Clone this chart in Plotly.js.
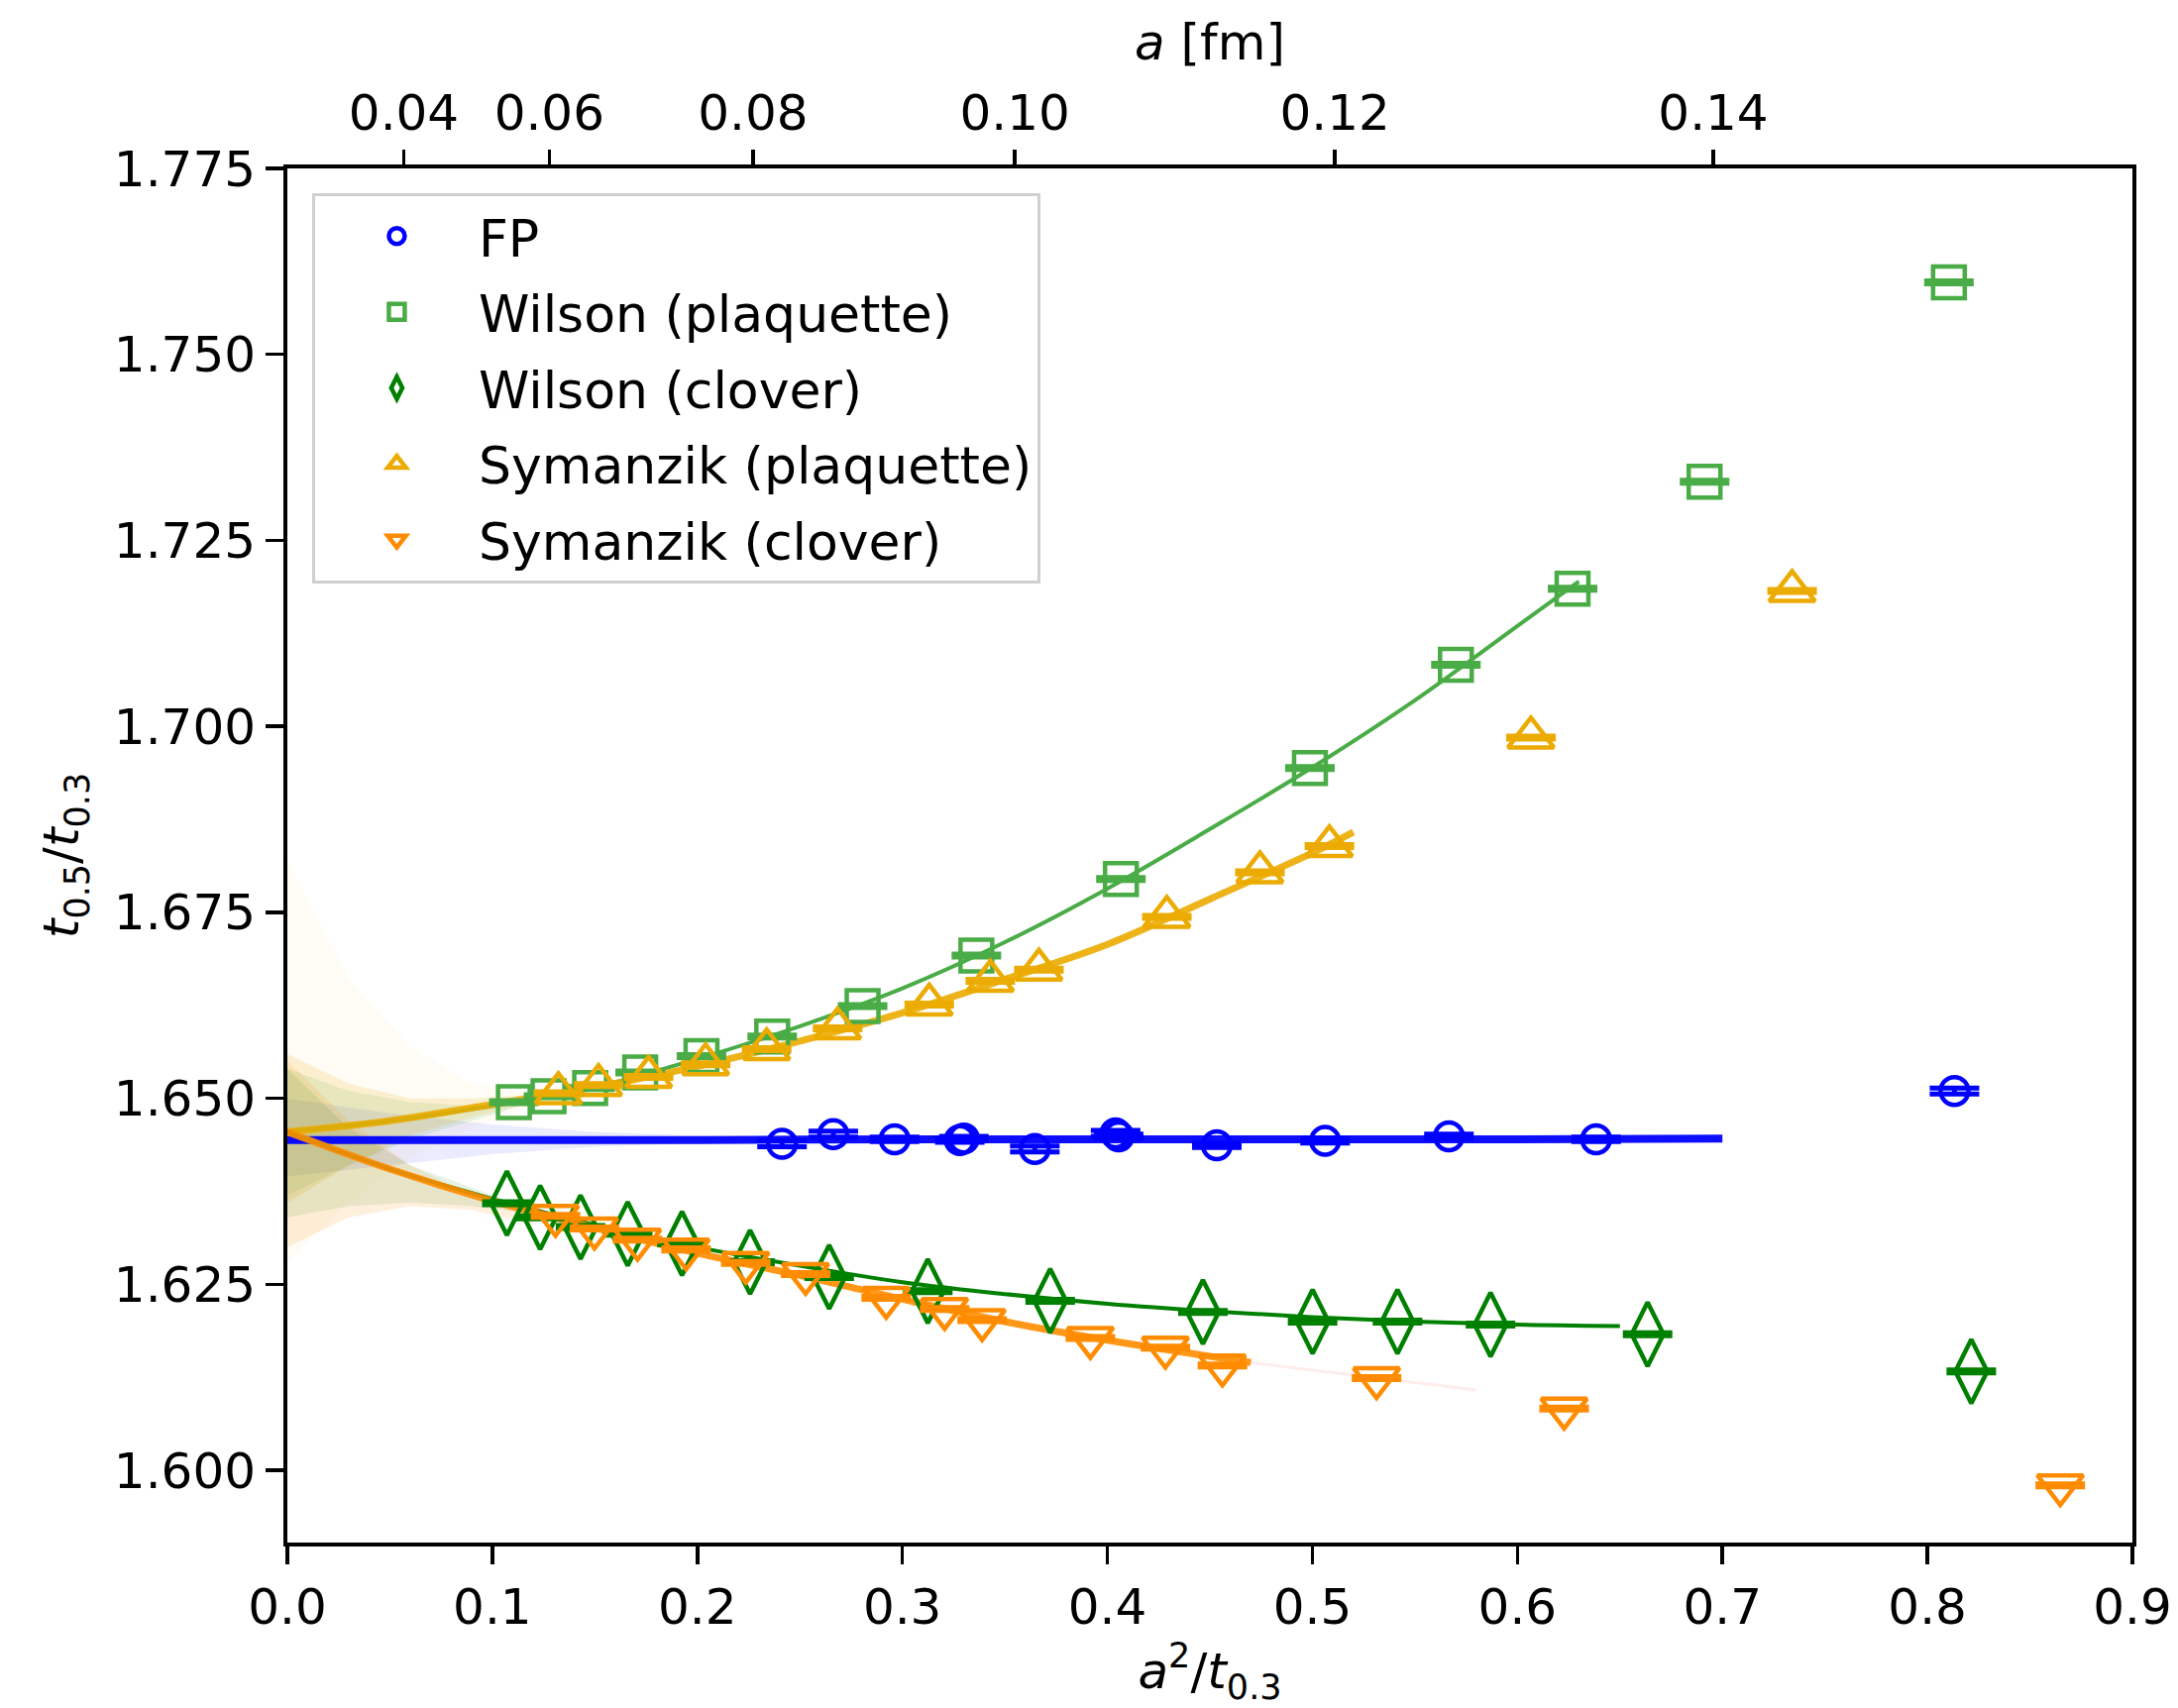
<!DOCTYPE html>
<html>
<head>
<meta charset="utf-8">
<script src="https://cdn.plot.ly/plotly-3.0.1.min.js"></script>
<style>html,body{margin:0;padding:0;background:#fff;}#chart{width:2198px;height:1724px;}</style>
</head>
<body>
<div id="chart"></div>
<script>
// ---------------- data ----------------
// FP
const fpX = [0.2413, 0.2663, 0.2962, 0.3280, 0.3300, 0.3646, 0.4040, 0.4055, 0.4534, 0.5062, 0.5666, 0.6384, 0.8132];
const fpY = [1.6439, 1.6452, 1.6445, 1.6444, 1.6446, 1.6432, 1.6453, 1.6449, 1.6437, 1.6443, 1.6449, 1.6445, 1.6510];
const fpErr = [0.0004, 0.0004, 0.0003, 0.0003, 0.0003, 0.0004, 0.0004, 0.0003, 0.0003, 0.0003, 0.0003, 0.0003, 0.0004];
// Wilson (plaquette)
const wpX = [0.1105, 0.1274, 0.1477, 0.1721, 0.2020, 0.2365, 0.2806, 0.3361, 0.4066, 0.4988, 0.5700, 0.6269, 0.6913, 0.8105];
const wpY = [1.6495, 1.6503, 1.6514, 1.6535, 1.6557, 1.6583, 1.6624, 1.6692, 1.6795, 1.6944, 1.7083, 1.7185, 1.7329, 1.7597];
const wpErr = [0.0002, 0.0002, 0.0002, 0.0002, 0.0002, 0.0002, 0.0002, 0.0002, 0.0002, 0.0002, 0.0002, 0.0002, 0.0002, 0.0002];
// Wilson (clover)
const wcX = [0.1071, 0.1233, 0.1430, 0.1660, 0.1925, 0.2257, 0.2643, 0.3124, 0.3721, 0.4466, 0.5001, 0.5415, 0.5869, 0.6635, 0.8214];
const wcY = [1.6359, 1.6340, 1.6327, 1.6318, 1.6305, 1.6280, 1.6260, 1.6241, 1.6228, 1.6213, 1.6200, 1.6200, 1.6196, 1.6183, 1.6133];
const wcErr = [0.0002, 0.0002, 0.0002, 0.0002, 0.0002, 0.0002, 0.0002, 0.0002, 0.0002, 0.0002, 0.0002, 0.0002, 0.0002, 0.0002, 0.0002];
// Symanzik (plaquette)
const spX = [0.1322, 0.1518, 0.1762, 0.2040, 0.2338, 0.2684, 0.3131, 0.3429, 0.3666, 0.4290, 0.4744, 0.5083, 0.6066, 0.7340];
const spY = [1.6507, 1.6518, 1.6529, 1.6546, 1.6566, 1.6594, 1.6626, 1.6658, 1.6673, 1.6744, 1.6804, 1.6839, 1.6985, 1.7182];
const spErr = [0.0002, 0.0002, 0.0002, 0.0002, 0.0002, 0.0002, 0.0002, 0.0002, 0.0002, 0.0002, 0.0002, 0.0002, 0.0002, 0.0002];
// Symanzik (clover)
const scX = [0.1308, 0.1498, 0.1708, 0.1945, 0.2236, 0.2528, 0.2921, 0.3206, 0.3389, 0.3917, 0.4283, 0.4561, 0.5313, 0.6228, 0.8648];
const scY = [1.6342, 1.6325, 1.6310, 1.6297, 1.6279, 1.6264, 1.6232, 1.6217, 1.6202, 1.6178, 1.6165, 1.6141, 1.6124, 1.6083, 1.5980];
const scErr = [0.0002, 0.0002, 0.0002, 0.0002, 0.0002, 0.0002, 0.0002, 0.0002, 0.0002, 0.0002, 0.0002, 0.0002, 0.0002, 0.0002, 0.0002];

// continuum-extrapolation fit curves (central)
const fpFitX = [0, 0.1, 0.2, 0.3, 0.4, 0.5, 0.6, 0.7];
const fpFitY = [1.6444, 1.6444, 1.6444, 1.6445, 1.6445, 1.6445, 1.6445, 1.6446];
const wpFitX = [0, 0.05, 0.1, 0.15, 0.2, 0.25, 0.3, 0.35, 0.4, 0.45, 0.5, 0.55, 0.6, 0.63];
const wpFitY = [1.6455, 1.6470, 1.6490, 1.6515, 1.6553, 1.6597, 1.6648, 1.6710, 1.6782, 1.6862, 1.6945, 1.7035, 1.7135, 1.7195];
const spFitX = [0, 0.05, 0.1, 0.15, 0.2, 0.25, 0.3, 0.35, 0.4, 0.45, 0.5, 0.52];
const spFitY = [1.6455, 1.6470, 1.6492, 1.6515, 1.6543, 1.6577, 1.6615, 1.6660, 1.6707, 1.6768, 1.6830, 1.6858];
const wcFitX = [0, 0.05, 0.1, 0.15, 0.2, 0.25, 0.3, 0.35, 0.4, 0.45, 0.5, 0.55, 0.6, 0.65];
const wcFitY = [1.6455, 1.6405, 1.6365, 1.6330, 1.6300, 1.6275, 1.6253, 1.6237, 1.6224, 1.6214, 1.6206, 1.6200, 1.6196, 1.6194];
const scFitX = [0, 0.05, 0.1, 0.15, 0.2, 0.25, 0.3, 0.35, 0.4, 0.47];
const scFitY = [1.6455, 1.6405, 1.6362, 1.6326, 1.6292, 1.6262, 1.6230, 1.6200, 1.6175, 1.6145];
const scTailX = [0.47, 0.52, 0.58];
const scTailY = [1.6145, 1.6128, 1.6108];

// spread of bootstrap fits near the continuum limit
const bandX = [0, 0.03, 0.06, 0.09, 0.12];
const wpBandHi = [1.654, 1.651, 1.6495, 1.649, 1.650];
const wpBandLo = [1.637, 1.641, 1.6445, 1.647, 1.6495];
const spBandHi = [1.656, 1.652, 1.650, 1.650, 1.6505];
const spBandLo = [1.636, 1.641, 1.645, 1.6475, 1.6495];
const spWideHi = [1.682, 1.666, 1.657, 1.652, 1.6505];
const spWideLo = [1.628, 1.636, 1.642, 1.646, 1.649];
const wcBandHi = [1.654, 1.646, 1.641, 1.638, 1.635];
const wcBandLo = [1.634, 1.6355, 1.636, 1.6355, 1.6345];
const scBandHi = [1.655, 1.647, 1.641, 1.637, 1.6345];
const scBandLo = [1.630, 1.634, 1.6355, 1.635, 1.633];
const fpBandX = [0, 0.05, 0.1, 0.15, 0.2, 0.25];
const fpBandHi = [1.6500, 1.6480, 1.6465, 1.6455, 1.6450, 1.6447];
const fpBandLo = [1.6395, 1.6410, 1.6425, 1.6435, 1.6440, 1.6442];

// top axis: lattice spacing a [fm], position a^2 / t0.3
const aTicks = [0.04, 0.06, 0.08, 0.10, 0.12, 0.14];
const aTickText = ['0.04', '0.06', '0.08', '0.10', '0.12', '0.14'];
const t03fm2 = 0.02818;

const yTicks = [1.600, 1.625, 1.650, 1.675, 1.700, 1.725, 1.750, 1.775];

// ---------------- styling ----------------
const C_FP = '#0000ff', C_WP = '#4aac46', C_WC = '#008000', C_SP = '#ebab00', C_SC = '#ff8c00';
const FONT = 'DejaVu Sans, Verdana, sans-serif';

function band(x, lo, hi, color, op) {
  return {x: x.concat(x.slice().reverse()), y: hi.concat(lo.slice().reverse()),
    type: 'scatter', mode: 'lines', fill: 'toself', fillcolor: color, opacity: op,
    line: {width: 0, color: color}, hoverinfo: 'skip', showlegend: false};
}
function fit(x, y, color, w, op) {
  return {x: x, y: y, type: 'scatter', mode: 'lines', line: {color: color, width: w, shape: 'spline'},
    opacity: op, hoverinfo: 'skip', showlegend: false};
}
function pts(x, y, e, name, color, symbol, size) {
  return {x: x, y: y, name: name, legendgroup: name, type: 'scatter', mode: 'markers',
    marker: {symbol: symbol, size: size, color: color, line: {color: color, width: 4.5}},
    error_y: {type: 'data', array: e, visible: true, color: color, thickness: 5, width: 25}};
}

const traces = [
  band(bandX, spWideLo, spWideHi, C_SP, 0.04),
  band(fpBandX, fpBandLo, fpBandHi, C_FP, 0.08),
  band(bandX, wpBandLo, wpBandHi, C_WP, 0.13),
  band(bandX, spBandLo, spBandHi, C_SP, 0.15),
  band(bandX, wcBandLo, wcBandHi, C_WC, 0.10),
  band(bandX, scBandLo, scBandHi, C_SC, 0.13),
  fit(fpFitX, fpFitY, C_FP, 8, 0.95),
  fit(wpFitX, wpFitY, C_WP, 4, 1),
  fit(spFitX, spFitY, C_SP, 7, 0.9),
  fit(wcFitX, wcFitY, C_WC, 4, 1),
  fit(scFitX, scFitY, C_SC, 7, 0.9),
  fit(scTailX, scTailY, '#ff6060', 3, 0.12),
  pts(fpX, fpY, fpErr, 'FP', C_FP, 'circle-open', 28),
  pts(wpX, wpY, wpErr, 'Wilson (plaquette)', C_WP, 'square-open', 32),
  pts(wcX, wcY, wcErr, 'Wilson (clover)', C_WC, 'diamond-tall-open', 46),
  pts(spX, spY, spErr, 'Symanzik (plaquette)', C_SP, 'triangle-up-open', 40),
  pts(scX, scY, scErr, 'Symanzik (clover)', C_SC, 'triangle-down-open', 40),
  {x: [], y: [], xaxis: 'x2', type: 'scatter', mode: 'markers', showlegend: false, hoverinfo: 'skip'}
];

const aPos = aTicks.map(a => a * a / t03fm2);

const layout = {
  width: 2198, height: 1724,
  paper_bgcolor: '#ffffff', plot_bgcolor: '#ffffff',
  margin: {l: 290, r: 46, t: 170, b: 167, pad: 0},
  font: {family: FONT, size: 50, color: '#000'},
  showlegend: true,
  legend: {x: 0.0134, y: 0.982, xanchor: 'left', yanchor: 'top',
    bgcolor: 'rgba(255,255,255,0.8)', bordercolor: '#d0d0d0', borderwidth: 3,
    font: {family: FONT, size: 52, color: '#000'}, itemwidth: 155, tracegroupgap: 6,
    itemsizing: 'trace'},
  xaxis: {range: [0, 0.9], tickmode: 'array', tickvals: [0,0.1,0.2,0.3,0.4,0.5,0.6,0.7,0.8,0.9],
    ticktext: ['0.0','0.1','0.2','0.3','0.4','0.5','0.6','0.7','0.8','0.9'],
    ticks: 'outside', ticklen: 18, tickwidth: 3.5, tickcolor: '#000',
    showline: true, linecolor: '#000', linewidth: 4, mirror: true,
    showgrid: false, zeroline: false, tickfont: {family: FONT, size: 50},
    title: {text: '<i>a</i><sup>2</sup>/<i>t</i><sub>0.3</sub>', font: {family: FONT, size: 50}, standoff: 10}},
  xaxis2: {overlaying: 'x', side: 'top', anchor: 'y', range: [0, 0.9], tickmode: 'array',
    tickvals: aPos, ticktext: aTickText,
    ticks: 'outside', ticklen: 18, tickwidth: 3.5, tickcolor: '#000',
    showline: false, showgrid: false, zeroline: false, tickfont: {family: FONT, size: 50},
    title: {text: '<i>a</i> [fm]', font: {family: FONT, size: 50}, standoff: 8}},
  yaxis: {range: [1.5903, 1.775], tickmode: 'array', tickvals: yTicks,
    ticktext: yTicks.map(v => v.toFixed(3)),
    ticks: 'outside', ticklen: 18, tickwidth: 3.5, tickcolor: '#000',
    showline: true, linecolor: '#000', linewidth: 4, mirror: true,
    showgrid: false, zeroline: false, tickfont: {family: FONT, size: 50},
    title: {text: '<i>t</i><sub>0.5</sub>/<i>t</i><sub>0.3</sub>', font: {family: FONT, size: 50}, standoff: 20}}
};

Plotly.newPlot('chart', traces, layout, {displayModeBar: false, staticPlot: true});
</script>
</body>
</html>
